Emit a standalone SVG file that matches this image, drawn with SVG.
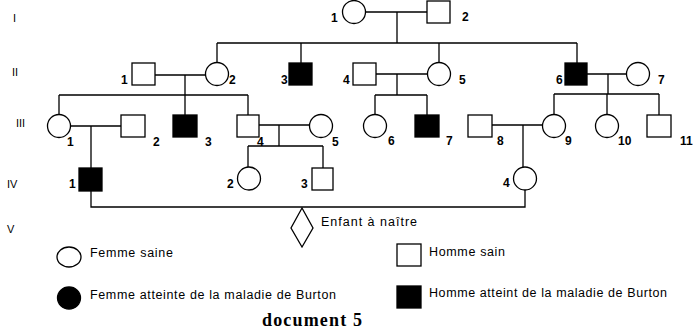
<svg xmlns="http://www.w3.org/2000/svg" width="694" height="331" viewBox="0 0 694 331">
<style>
.ln{stroke:#000;stroke-width:1.3;fill:none}
.o{fill:#fff;stroke:#000;stroke-width:1.3}
.f{fill:#000;stroke:#000;stroke-width:1.3}
.n{font-family:"Liberation Sans",Arial,sans-serif;font-size:12px;font-weight:bold;fill:#000}
.g{font-family:"Liberation Sans",Arial,sans-serif;font-size:11px;fill:#000}
.t{font-family:"Liberation Sans",Arial,sans-serif;font-size:12.5px;fill:#000}
.d{font-family:"Liberation Serif","Times New Roman",serif;font-size:18px;font-weight:bold;fill:#000}
</style>
<rect width="694" height="331" fill="#fff"/>
<g id="generations">
<text class="g" x="13" y="22">I</text>
<text class="g" x="12" y="76">II</text>
<text class="g" x="16" y="127">III</text>
<text class="g" x="7" y="188">IV</text>
<text class="g" x="7" y="233">V</text>
</g>
<g id="connectors">
<path class="ln" d="M365,12H427M397,12V43M217,43H577M217,43V63M301,43V63M439,43V63M577,43V63"/>
<path class="ln" d="M155,75H205M185,75V95M59,95H248M59,95V115M185,95V115M248,95V115"/>
<path class="ln" d="M376,74H427M397,74V95M375,95H427M375,95V115M427,95V115"/>
<path class="ln" d="M587,74H627M608,74V94M554,94H659M554,94V115M607,94V115M659,94V115"/>
<path class="ln" d="M71,126H121M91,126V168"/>
<path class="ln" d="M259,125H309M279,125V146M248,146H323M248,146V167M323,146V168"/>
<path class="ln" d="M492,125H543M523,125V167"/>
<path class="ln" d="M91,191V207H525V190"/>
</g>
<g id="I-1"><circle class="o" cx="354" cy="12" r="11.5"/><text class="n" x="331" y="22">1</text></g>
<g id="I-2"><rect class="o" x="427" y="1" width="23" height="22"/><text class="n" x="462" y="21">2</text></g>
<g id="II-1"><rect class="o" x="132" y="63" width="23" height="22"/><text class="n" x="121" y="84">1</text></g>
<g id="II-2"><circle class="o" cx="217" cy="74" r="11.5"/><text class="n" x="229" y="84">2</text></g>
<g id="II-3"><rect class="f" x="289" y="63" width="23" height="22"/><text class="n" x="281" y="84">3</text></g>
<g id="II-4"><rect class="o" x="353" y="63" width="23" height="22"/><text class="n" x="343" y="84">4</text></g>
<g id="II-5"><circle class="o" cx="439" cy="74" r="11.5"/><text class="n" x="459" y="84">5</text></g>
<g id="II-6"><rect class="f" x="565" y="63" width="22" height="22"/><text class="n" x="556" y="84">6</text></g>
<g id="II-7"><circle class="o" cx="638" cy="74" r="11.5"/><text class="n" x="658" y="84">7</text></g>
<g id="III-1"><circle class="o" cx="59" cy="126" r="11.5"/><text class="n" x="67" y="146">1</text></g>
<g id="III-2"><rect class="o" x="121" y="115" width="24" height="22"/><text class="n" x="153" y="146">2</text></g>
<g id="III-3"><rect class="f" x="173" y="115" width="24" height="22"/><text class="n" x="205" y="146">3</text></g>
<g id="III-4"><rect class="o" x="237" y="115" width="22" height="22"/><text class="n" x="257" y="146">4</text></g>
<g id="III-5"><circle class="o" cx="321" cy="126" r="11.5"/><text class="n" x="332" y="146">5</text></g>
<g id="III-6"><circle class="o" cx="375" cy="126" r="11.5"/><text class="n" x="388" y="145">6</text></g>
<g id="III-7"><rect class="f" x="415" y="115" width="24" height="22"/><text class="n" x="446" y="145">7</text></g>
<g id="III-8"><rect class="o" x="468" y="115" width="24" height="22"/><text class="n" x="497" y="145">8</text></g>
<g id="III-9"><circle class="o" cx="554" cy="126" r="11.5"/><text class="n" x="565" y="145">9</text></g>
<g id="III-10"><circle class="o" cx="607" cy="126" r="11.5"/><text class="n" x="618" y="145">10</text></g>
<g id="III-11"><rect class="o" x="647" y="115" width="24" height="22"/><text class="n" x="680" y="145">11</text></g>
<g id="IV-1"><rect class="f" x="79" y="168" width="23" height="23"/><text class="n" x="69" y="188">1</text></g>
<g id="IV-2"><circle class="o" cx="249" cy="178.5" r="11.5"/><text class="n" x="227" y="188">2</text></g>
<g id="IV-3"><rect class="o" x="312" y="168" width="21" height="22"/><text class="n" x="301" y="188">3</text></g>
<g id="IV-4"><circle class="o" cx="525" cy="178.5" r="11.5"/><text class="n" x="503" y="187">4</text></g>
<g id="V-1"><path class="o" d="M302,208L313,228L302,247L291,228Z"/><text class="t" x="321" y="226" textLength="96">Enfant à naître</text></g>
<g id="legend">
<ellipse class="o" cx="69" cy="257" rx="12" ry="10"/>
<text class="t" x="90" y="257" textLength="83">Femme saine</text>
<ellipse class="f" cx="69" cy="298" rx="11.5" ry="11"/>
<text class="t" x="90" y="299" textLength="246">Femme atteinte de la maladie de Burton</text>
<rect class="o" x="397" y="244" width="24" height="22"/>
<text class="t" x="429" y="256" textLength="76">Homme sain</text>
<rect class="f" x="397" y="286" width="24" height="22"/>
<text class="t" x="429" y="297" textLength="238">Homme atteint de la maladie de Burton</text>
<text class="d" x="262" y="326" textLength="100">document 5</text>
</g>
</svg>
